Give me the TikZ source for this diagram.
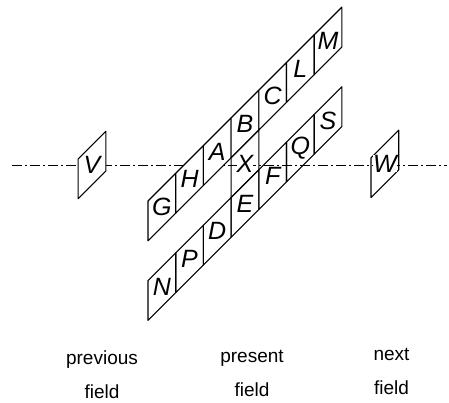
\documentclass[tikz,border=0pt]{standalone}
\usepackage{fontspec}
\setmainfont{Liberation Sans}
\begin{document}
\begin{tikzpicture}[x=0.5pt,y=-0.5pt,
  cell/.style={draw, line width=0.55pt, line join=round},
  frontcell/.style={cell, fill=white},
  letter/.style={font=\fontsize{12.5}{13}\selectfont\itshape, inner sep=0pt},
  axisletter/.style={letter, fill=white},
  axis/.style={line width=0.5pt, dash pattern=on 5pt off 1.5pt on 1pt off 1.5pt},
  lab/.style={font=\fontsize{9.5}{17}\selectfont, align=center}]
\useasboundingbox (0,0) rectangle (449,402);
\def\w{27.7}\def\h{39.8}
% time axis
\coordinate (axL) at (12,165);
\coordinate (axR) at (447,165);
\draw[axis] (axL) -- (axR);
% upper strip of the present field
\foreach \lt [count=\i from 0] in {G,H,A,B,C,L,M} {
  \pgfmathsetmacro\xa{148+\i*\w}
  \pgfmathsetmacro\ya{201-\i*\w}
  \draw[frontcell] (\xa,\ya) -- ++(\w,-\w) -- ++(0,\h) -- ++(-\w,\w) -- cycle;
  \node[letter] (c\lt) at (\xa+\w/2,\ya-\w/2+\h/2) {\lt};
}
% middle cell X
\pgfmathsetmacro\xa{148+3*\w}
\pgfmathsetmacro\ya{201-3*\w+\h}
\draw[cell] (\xa,\ya) -- ++(\w,-\w) -- ++(0,\h) -- ++(-\w,\w) -- cycle;
\node[axisletter] (cX) at (\xa+\w/2,\ya-\w/2+\h/2) {X};
% lower strip
\foreach \lt [count=\i from 0] in {N,P,D,E,F,Q,S} {
  \pgfmathsetmacro\xa{148+\i*\w}
  \pgfmathsetmacro\ya{201-\i*\w+2*\h}
  \draw[cell] (\xa,\ya) -- ++(\w,-\w) -- ++(0,\h) -- ++(-\w,\w) -- cycle;
  \node[letter] (c\lt) at (\xa+\w/2,\ya-\w/2+\h/2) {\lt};
}
% previous field V
\draw[frontcell] (78.15,158.95) -- ++(\w,-\w) -- ++(0,\h) -- ++(-\w,\w) -- cycle;
\node[letter] (cV) at (92,165) {V};
% next field W
\draw[cell] (371,157.8) -- ++(\w,-\w) -- ++(0,\h) -- ++(-\w,\w) -- cycle;
\node[axisletter] (cW) at (384.85,163.85) {W};
% labels
\node[lab] (prev) at (102,375) {previous\\field};
\node[lab] (pres) at (252,373) {present\\field};
\node[lab] (next) at (391.5,371.5) {next\\field};
\end{tikzpicture}
\end{document}
